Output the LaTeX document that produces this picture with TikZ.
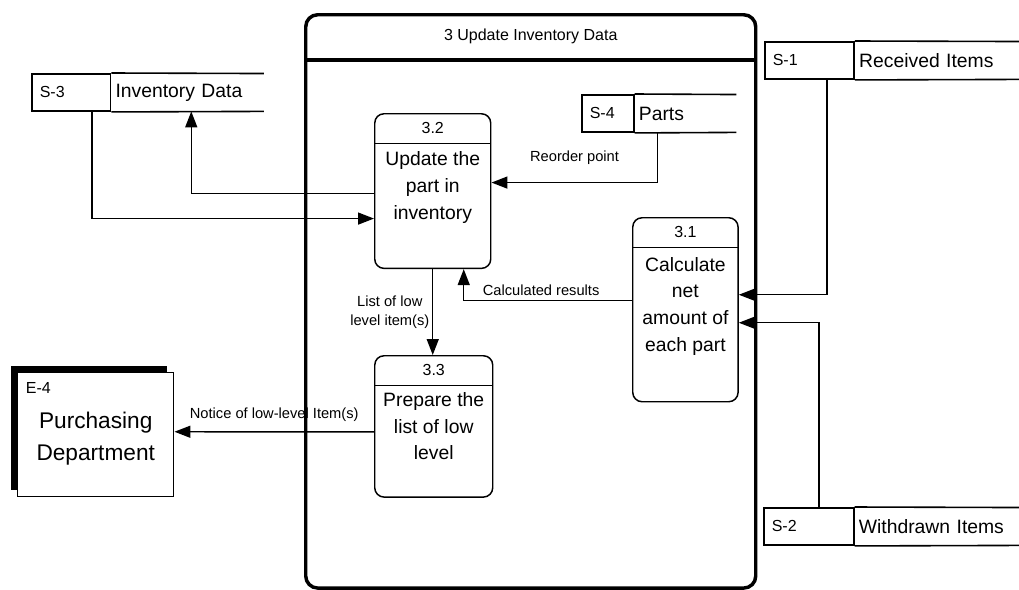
\documentclass[tikz,border=0pt]{standalone}
\usepackage{fontspec}
\setmainfont{Liberation Sans}
\usetikzlibrary{arrows.meta,positioning,calc,shadows}

\begin{document}
\begin{tikzpicture}[
  x=0.75pt, y=-0.75pt,
  frame/.style={draw, line width=2.6pt, rounded corners=9pt, anchor=north west},
  proc/.style={draw, line width=1.1pt, rounded corners=7pt, anchor=north west},
  procnum/.style={anchor=north, minimum height=22.5pt, inner sep=0pt,
    font=\fontsize{12}{14}\selectfont},
  proctext/.style={align=center, inner sep=1pt, font=\fontsize{14.5}{20}\selectfont},
  storeid/.style={draw, line width=1.2pt, minimum height=28pt, inner xsep=6pt,
    align=left, anchor=north west, font=\fontsize{12}{14}\selectfont},
  storename/.style={minimum height=28pt, inner xsep=3pt, align=left, anchor=west,
    font=\fontsize{14.5}{17}\selectfont},
  storeline/.style={line width=1.2pt},
  entity/.style={draw, line width=1.1pt, fill=white, anchor=north west,
    general shadow={fill=black, shadow xshift=-5.25pt, shadow yshift=5.25pt}},
  enttext/.style={align=center, font=\fontsize{17}{24}\selectfont},
  flow/.style={font=\fontsize{11}{14}\selectfont},
  arr/.style={-{Triangle[length=12pt, width=9pt]}, line width=1.1pt}
]
\useasboundingbox (0,0) rectangle (1019,589);

% Process 3 frame
\node[frame, minimum width=337.5pt, minimum height=430pt] (p3) at (304,13) {};
\node[anchor=north, minimum height=35pt, font=\fontsize{12}{14}\selectfont] (p3n)
  at (p3.north) {3 Update Inventory Data};
\draw[line width=2.6pt] (p3.west |- p3n.south) -- (p3.east |- p3n.south);

% Store S-3
\node[storeid, text width=47pt] (s3id) at (31,73) {S-3};
\node[storename, text width=108pt] (s3) at (s3id.east) {Inventory Data};
\draw[storeline] (s3id.north east) -- (s3.north east) (s3id.south east) -- (s3.south east);

% Store S-4
\node[storeid, text width=27pt] (s4id) at (581,94) {S-4};
\node[storename, text width=70pt] (s4) at (s4id.east) {Parts};
\draw[storeline] (s4id.north east) -- (s4.north east) (s4id.south east) -- (s4.south east);

% Store S-1
\node[storeid, text width=55pt] (s1id) at (764,41) {S-1};
\node[storename, text width=118.5pt] (s1) at (s1id.east) {Received Items};
\draw[storeline] (s1id.north east) -- (s1.north east) (s1id.south east) -- (s1.south east);

% Store S-2
\node[storeid, text width=55.5pt] (s2id) at (763,507) {S-2};
\node[storename, text width=118.5pt] (s2) at (s2id.east) {Withdrawn Items};
\draw[storeline] (s2id.north east) -- (s2.north east) (s2id.south east) -- (s2.south east);

% Process 3.2
\node[proc, minimum width=87pt, minimum height=116pt] (p32) at (374,113) {};
\node[procnum] (p32n) at (p32.north) {3.2};
\draw[line width=1.1pt] (p32.west |- p32n.south) -- (p32.east |- p32n.south);
\node[proctext, below=5pt of p32n] (p32t) {Update the\\part in\\inventory};

% Process 3.1
\node[proc, minimum width=79pt, minimum height=138pt] (p31) at (632,217) {};
\node[procnum] (p31n) at (p31.north) {3.1};
\draw[line width=1.1pt] (p31.west |- p31n.south) -- (p31.east |- p31n.south);
\node[proctext, below=6pt of p31n] (p31t) {Calculate\\net\\amount of\\each part};

% Process 3.3
\node[proc, minimum width=88.5pt, minimum height=106pt] (p33) at (374,355) {};
\node[procnum] (p33n) at (p33.north) {3.3};
\draw[line width=1.1pt] (p33.west |- p33n.south) -- (p33.east |- p33n.south);
\node[proctext, below=4pt of p33n] (p33t) {Prepare the\\list of low\\level};

% External entity E-4
\node[entity, minimum width=117pt, minimum height=93pt] (e4) at (17,372) {};
\node[enttext] (e4t) at ($(e4.center)+(0,4)$) {Purchasing\\Department};
\node[anchor=north west, inner sep=2pt, font=\fontsize{12}{14}\selectfont] (e4id)
  at ($(e4.north west)+(6,8)$) {E-4};

% Flows
\draw[arr] ($(s3id.south west)+(61,0)$) |- ($(p32.west)+(0,27.5)$);
\draw[arr] ($(p32.west)+(0,2.5)$) -| ($(s3.south west)+(80,0)$);
\draw[arr] ($(s4.south west)+(23,0)$) |- ($(p32.east)+(0,-8.5)$)
  node[pos=0.75, above=10pt, flow] {Reorder point};
\draw[arr] ($(s1id.south west)+(63,0)$) |- ($(p31.east)+(0,-15)$);
\draw[arr] ($(s2id.north west)+(56,0)$) |- ($(p31.east)+(0,13)$);
\draw[arr] ($(p31.west)+(0,-9)$) -| ($(p32.south)+(31,0)$)
  node[pos=0.27, above, flow] {Calculated results};
\draw[arr] (p32.south) -- (p32.south |- p33.north)
  node[midway, left, align=center, inner sep=2pt, flow] {List of low\\level item(s)};
\draw[arr] ($(p33.west)+(0,5.5)$) -- ($(e4.east)+(0,-3)$ |- {$(p33.west)+(0,5.5)$})
  node[midway, above=4pt, flow] {Notice of low-level Item(s)};

\end{tikzpicture}
\end{document}
